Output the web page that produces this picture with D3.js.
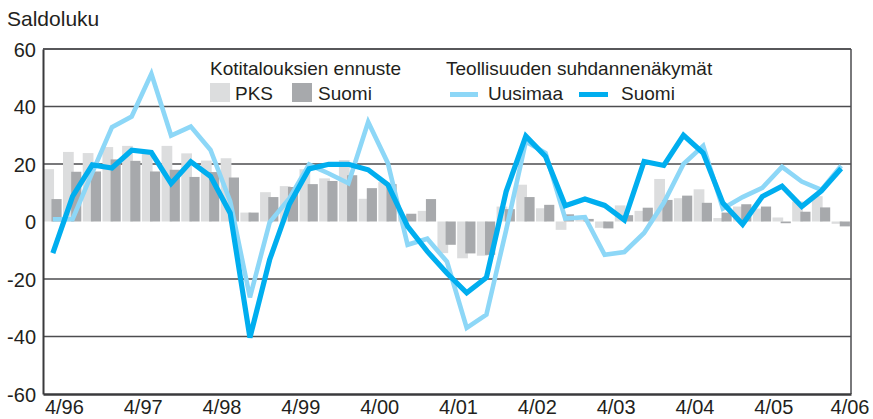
<!DOCTYPE html>
<html>
<head>
<meta charset="utf-8">
<script src="https://cdn.jsdelivr.net/npm/d3@7"></script>
<style>
body { margin: 0; background: #fff; }
text { font-family: "Liberation Sans", Arial, sans-serif; fill: #231f20; }
</style>
</head>
<body>
<div id="chart"></div>
<script>
var quarters = ["4/96", "1/97", "2/97", "3/97", "4/97", "1/98", "2/98", "3/98", "4/98",
    "1/99", "2/99", "3/99", "4/99", "1/00", "2/00", "3/00", "4/00", "1/01", "2/01", "3/01", "4/01",
    "1/02", "2/02", "3/02", "4/02", "1/03", "2/03", "3/03", "4/03", "1/04", "2/04", "3/04", "4/04",
    "1/05", "2/05", "3/05", "4/05", "1/06", "2/06", "3/06", "4/06"];
var tickLabels = ["4/96", "4/97", "4/98", "4/99", "4/00", "4/01", "4/02", "4/03", "4/04", "4/05", "4/06"];
var yTicks = [-60, -40, -20, 0, 20, 40, 60];

// Kotitalouksien ennuste (bars)
var pks = [18.2, 24.2, 23.8, 25.9, 26.3, 23.8, 26.3, 23.7, 21.2, 22.0,
    3.1, 10.2, 12.3, 18.2, 15.0, 21.4, 7.9, 13.7, 2.1, 3.7,
    -11.0, -12.8, -11.9, 5.2, 12.8, 4.6, -2.9, 0.6, -2.2, 5.6,
    3.7, 14.8, 8.1, 11.2, 1.2, 5.2, 4.5, 1.4, 7.0, 8.8, -0.8];
var suomiBars = [7.8, 17.3, 17.4, 21.6, 21.1, 17.4, 18.0, 15.5, 17.2, 15.3,
    3.1, 8.5, 12.0, 13.0, 14.1, 16.1, 11.6, 13.0, 2.7, 7.8,
    -8.1, -11.1, -11.6, 4.3, 8.5, 5.8, 2.5, 0.9, -2.4, 2.2,
    4.8, 7.5, 9.0, 6.5, 3.1, 6.0, 5.2, -0.6, 3.4, 4.9, -1.7];

// Teollisuuden suhdannenäkymät (lines)
var uusimaa = [0.8, 0.8, 17, 32.8, 36.5, 51.4, 29.9, 33.0, 24.9, 7,
    -26.4, -0.3, 8, 19.8, 16.7, 13.3, 34.6, 20.3, -8.1, -6.0,
    -14, -37, -32.4, -3, 27.8, 23.8, 1, 1.5, -11.6, -10.6,
    -4, 6.5, 20, 26.3, 4.5, 8.5, 11.7, 19, 13.9, 11, 19.4];
var suomiLine = [-11, 8.7, 19.7, 18.6, 24.8, 24, 13.2, 20.8, 15.7, 2.9,
    -40.4, -13.3, 6, 18.3, 19.9, 19.9, 18.0, 12.8, -1.7, -10.4,
    -18, -24.8, -19.5, 10.4, 29.7, 22.6, 5.5, 7.8, 5.6, 0.5,
    20.9, 19.5, 30, 23.8, 6.4, -1, 8.7, 12.3, 5.2, 10.7, 18.4];

var width = 873;
var height = 419;
var plotLeft = 43, plotRight = 851, plotTop = 49, plotBottom = 394;

var svg = d3.select("#chart").append("svg")
    .attr("width", width)
    .attr("height", height);

var x = d3.scaleBand().domain(quarters).range([plotLeft, plotRight]).padding(0);
var y = d3.scaleLinear().domain([-60, 60]).range([plotBottom, plotTop]);
var bw = x.bandwidth();

// grid lines
svg.selectAll(".grid")
    .data(yTicks.filter(d => d !== 0 && d !== -60))
    .enter().append("line")
    .attr("x1", plotLeft).attr("x2", plotRight)
    .attr("y1", d => y(d)).attr("y2", d => y(d))
    .style("stroke", "#4d4d4f")
    .style("stroke-width", 1.3);

// right border
svg.append("line")
    .attr("x1", plotRight).attr("x2", plotRight)
    .attr("y1", plotTop).attr("y2", plotBottom)
    .style("stroke", "#4d4d4f")
    .style("stroke-width", 1.5);

// bars
svg.selectAll(".pks")
    .data(pks)
    .enter().append("rect")
    .attr("x", (d, i) => x(quarters[i]) + 0.3)
    .attr("width", bw * 0.545)
    .attr("y", d => Math.min(y(d), y(0)))
    .attr("height", d => Math.abs(y(d) - y(0)))
    .style("fill", "#dcddde");

svg.selectAll(".suomiBar")
    .data(suomiBars)
    .enter().append("rect")
    .attr("x", (d, i) => x(quarters[i]) + bw * 0.43)
    .attr("width", bw * 0.515)
    .attr("y", d => Math.min(y(d), y(0)))
    .attr("height", d => Math.abs(y(d) - y(0)))
    .style("fill", "#a7a9ac");

// lines
var line = d3.line()
    .x((d, i) => x(quarters[i]) + bw / 2)
    .y(d => y(d));

svg.append("path")
    .datum(uusimaa)
    .attr("d", line)
    .style("fill", "none")
    .style("stroke", "#8dd7f7")
    .style("stroke-width", 4.6);

svg.append("path")
    .datum(suomiLine)
    .attr("d", line)
    .style("fill", "none")
    .style("stroke", "#00aeef")
    .style("stroke-width", 5.2);

// axes
var yAxis = svg.append("g")
    .attr("transform", `translate(${plotLeft},0)`)
    .call(d3.axisLeft(y).tickValues(yTicks).tickSize(0).tickPadding(7).tickFormat(d => String(d)));
yAxis.select(".domain").style("stroke", "#3a3a3c").style("stroke-width", 2);
yAxis.selectAll("text").style("font-size", "20px").attr("dy", "0.35em");

var xAxis = svg.append("g")
    .attr("transform", `translate(0,${plotBottom})`)
    .call(d3.axisBottom(x).tickValues(tickLabels).tickSize(0).tickSizeOuter(0).tickPadding(4));
xAxis.select(".domain").style("stroke", "#3a3a3c").style("stroke-width", 2.5);
xAxis.selectAll("text")
    .style("font-size", "20px")
    .attr("dy", "0.8em")
    .attr("x", d => Math.min(11.5, (width - 2) - (x(d) + bw / 2) - 21));

// top border
svg.append("line")
    .attr("x1", plotLeft).attr("x2", plotRight)
    .attr("y1", plotTop).attr("y2", plotTop)
    .style("stroke", "#4d4d4f")
    .style("stroke-width", 1.5);

svg.append("text")
    .attr("x", 7).attr("y", 26)
    .style("font-size", "21px")
    .text("Saldoluku");

// legend
var lg = svg.append("g").style("font-size", "19px");
lg.append("text").attr("x", 210).attr("y", 75).text("Kotitalouksien ennuste");
lg.append("rect").attr("x", 210).attr("y", 83).attr("width", 20).attr("height", 19).style("fill", "#dcddde");
lg.append("text").attr("x", 235).attr("y", 100).text("PKS");
lg.append("rect").attr("x", 292).attr("y", 83).attr("width", 20).attr("height", 19).style("fill", "#a7a9ac");
lg.append("text").attr("x", 318).attr("y", 100).text("Suomi");

lg.append("text").attr("x", 446).attr("y", 75).text("Teollisuuden suhdannenäkymät");
lg.append("line").attr("x1", 450).attr("x2", 478).attr("y1", 94.5).attr("y2", 94.5)
    .style("stroke", "#8dd7f7").style("stroke-width", 5);
lg.append("text").attr("x", 488).attr("y", 100).text("Uusimaa");
lg.append("line").attr("x1", 579).attr("x2", 608).attr("y1", 94.5).attr("y2", 94.5)
    .style("stroke", "#00aeef").style("stroke-width", 5);
lg.append("text").attr("x", 621).attr("y", 100).text("Suomi");
</script>
</body>
</html>
